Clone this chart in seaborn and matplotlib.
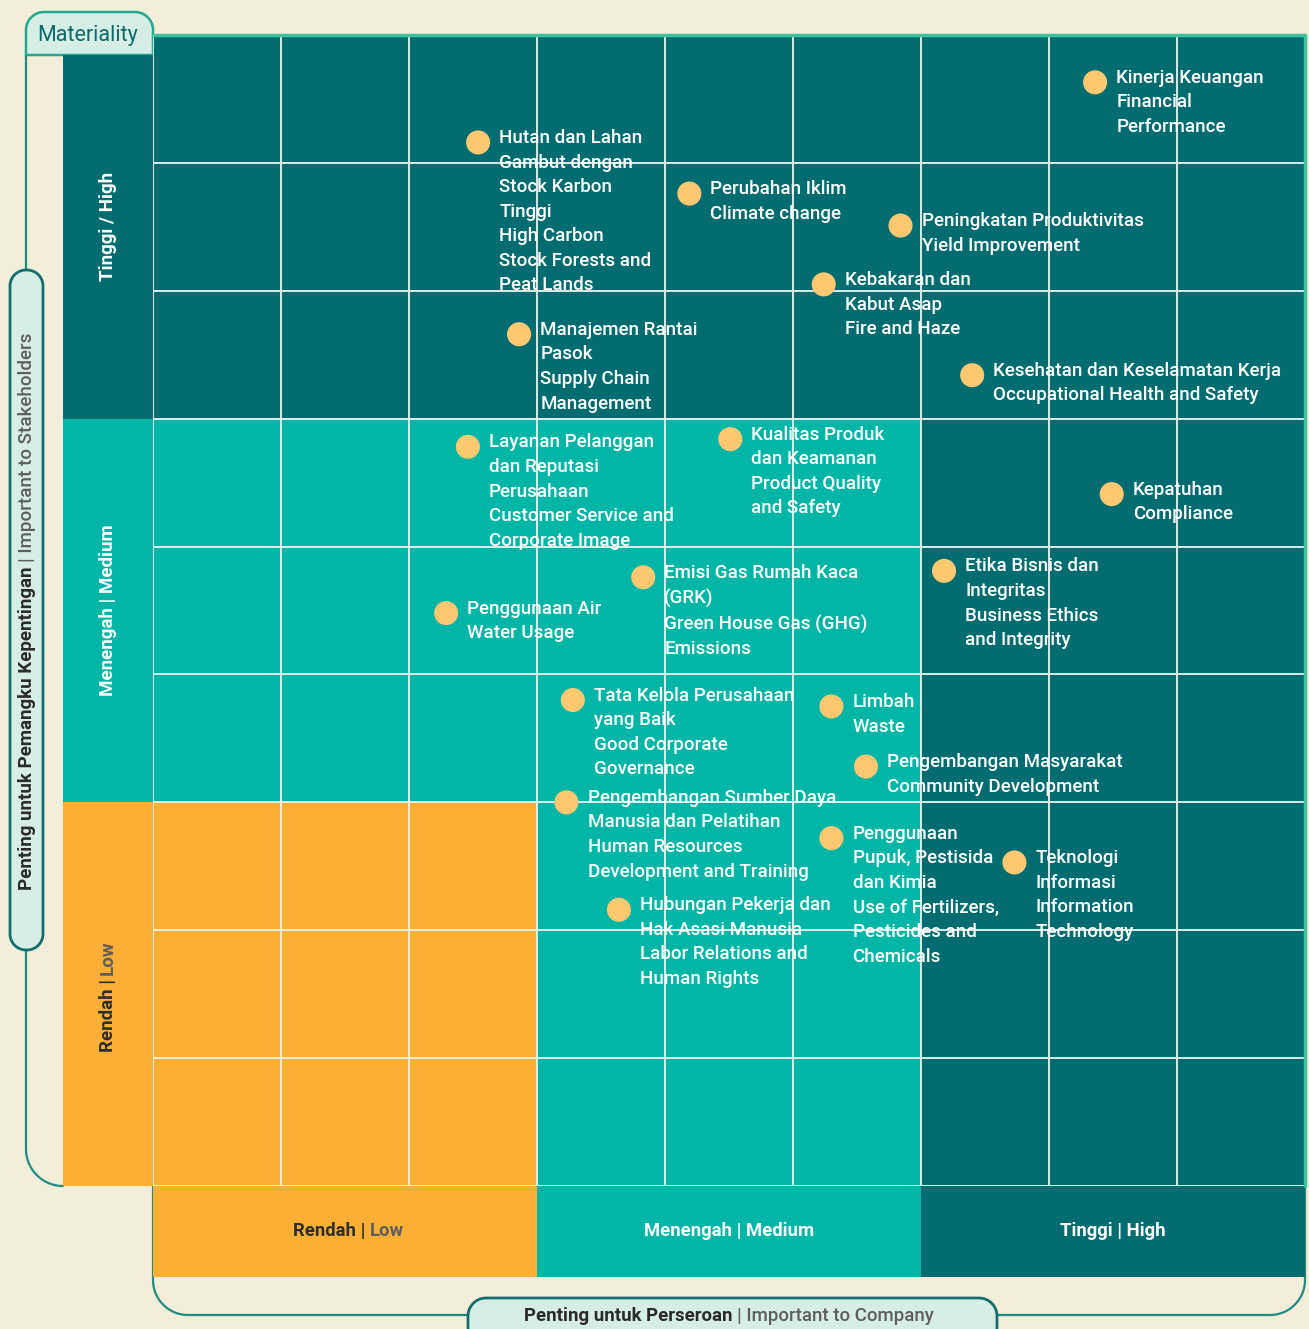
import numpy as np
import pandas as pd
import matplotlib.pyplot as plt
from matplotlib.patches import Rectangle, Polygon
import seaborn as sns

# data: posisi isu material (skala 0-9)
labels = [
    "Kinerja Keuangan\nFinancial\nPerformance",
    "Hutan dan Lahan\nGambut dengan\nStock Karbon\nTinggi\nHigh Carbon\nStock Forests and\nPeat Lands",
    "Perubahan Iklim\nClimate change",
    "Peningkatan Produktivitas\nYield Improvement",
    "Kebakaran dan\nKabut Asap\nFire and Haze",
    "Manajemen Rantai\nPasok\nSupply Chain\nManagement",
    "Kesehatan dan Keselamatan Kerja\nOccupational Health and Safety",
    "Layanan Pelanggan\ndan Reputasi\nPerusahaan\nCustomer Service and\nCorporate Image",
    "Kualitas Produk\ndan Keamanan\nProduct Quality\nand Safety",
    "Kepatuhan\nCompliance",
    "Etika Bisnis dan\nIntegritas\nBusiness Ethics\nand Integrity",
    "Emisi Gas Rumah Kaca\n(GRK)\nGreen House Gas (GHG)\nEmissions",
    "Penggunaan Air\nWater Usage",
    "Tata Kelola Perusahaan\nyang Baik\nGood Corporate\nGovernance",
    "Limbah\nWaste",
    "Pengembangan Masyarakat\nCommunity Development",
    "Pengembangan Sumber Daya\nManusia dan Pelatihan\nHuman Resources\nDevelopment and Training",
    "Penggunaan\nPupuk, Pestisida\ndan Kimia\nUse of Fertilizers,\nPesticides and\nChemicals",
    "Teknologi\nInformasi\nInformation\nTechnology",
    "Hubungan Pekerja dan\nHak Asasi Manusia\nLabor Relations and\nHuman Rights",
]
company = [7.36, 2.54, 4.19, 5.84, 5.24, 2.86, 6.40, 2.46, 4.51, 7.49,
           6.18, 3.83, 2.29, 3.28, 5.30, 5.57, 3.23, 5.30, 6.73, 3.64]
stakeholder = [8.63, 8.16, 7.76, 7.51, 7.05, 6.66, 6.34, 5.78, 5.84, 5.41,
               4.81, 4.76, 4.48, 3.80, 3.75, 3.28, 3.00, 2.72, 2.53, 2.16]

levels_company = ["Rendah | Low", "Menengah | Medium", "Tinggi | High"]
levels_stake = ["Rendah | Low", "Menengah | Medium", "Tinggi / High"]

df = pd.DataFrame({"company": company, "stakeholder": stakeholder, "label": labels})

# warna
CREAM = "#F3EEDA"
DARK = "#026C70"
TEAL = "#01B6A6"
ORANGE = "#FBB035"
DOT = "#FDC870"
MINT = "#D7EEE6"
LINE = "#1E8C84"
GREY = "#5E5E5E"

sns.set_theme(style="white")
plt.rcParams['font.family'] = ['Roboto', 'DejaVu Sans']

fig = plt.figure(figsize=(13.09, 13.29), dpi=100, facecolor=CREAM)

# latar belakang / bingkai dalam piksel
bg = fig.add_axes([0, 0, 1, 1])
bg.set_xlim(0, 1309)
bg.set_ylim(1329, 0)
bg.axis("off")
bg.set_facecolor(CREAM)


def rounded(x0, y0, x1, y1, r):
    # r = (kiri-atas, kanan-atas, kanan-bawah, kiri-bawah)
    pts = []
    corners = [((x0 + r[0], y0 + r[0]), r[0], 180, 270),
               ((x1 - r[1], y0 + r[1]), r[1], 270, 360),
               ((x1 - r[2], y1 - r[2]), r[2], 0, 90),
               ((x0 + r[3], y1 - r[3]), r[3], 90, 180)]
    for (cx, cy), rr, a0, a1 in corners:
        t = np.radians(np.linspace(a0, a1, 20))
        pts += list(zip(cx + rr * np.cos(t), cy + rr * np.sin(t)))
    return np.array(pts)


def arc(cx, cy, r, a0, a1):
    t = np.radians(np.linspace(a0, a1, 30))
    return cx + r * np.cos(t), cy + r * np.sin(t)


# garis bingkai kiri
ax_, ay_ = arc(63, 1149, 37, 180, 90)
bg.plot(np.r_[26, ax_], np.r_[55, ay_], color=LINE, lw=1.6)
# garis bingkai bawah
a1x, a1y = arc(188, 1280, 35, 180, 90)
a2x, a2y = arc(1270, 1280, 35, 90, 0)
bg.plot(np.r_[153, a1x, a2x, 1305], np.r_[1186, a1y, a2y, 1186], color=LINE, lw=1.6)

bg.add_patch(Polygon(rounded(26, 12, 153, 55, (18, 18, 0, 0)), closed=True,
                     fc=MINT, ec="#22A890", lw=1.8, zorder=3))
bg.text(88, 35, "Materiality", ha="center", va="center", fontsize=15.5,
        color="#0B6A6C", zorder=4)

bg.add_patch(Polygon(rounded(10, 270, 43, 950, (16, 16, 16, 16)), closed=True,
                     fc=MINT, ec="#136F6E", lw=2, zorder=3))
t1 = bg.text(27, 890, "Penting untuk Pemangku Kepentingan", rotation=90,
             ha="center", va="bottom", fontsize=13.5, fontweight="bold",
             color="#2A2A2A", zorder=4)
bg.annotate("| Important to Stakeholders", xy=(0.5, 1), xycoords=t1,
            xytext=(0, 3), textcoords="offset points", rotation=90,
            ha="center", va="bottom", fontsize=13.5, fontweight="medium",
            color=GREY, zorder=4)

bg.add_patch(Polygon(rounded(468, 1298, 997, 1345, (18, 18, 18, 18)), closed=True,
                     fc=MINT, ec="#136F6E", lw=2, zorder=3))
t2 = bg.text(733, 1316, "Penting untuk Perseroan", ha="right", va="center",
             fontsize=13.4, fontweight="bold", color="#2A2A2A", zorder=4)
bg.annotate("| Important to Company", xy=(1, 0.5), xycoords=t2,
            xytext=(3, 0), textcoords="offset points", ha="left", va="center",
            fontsize=13.4, fontweight="medium", color=GREY, zorder=4)

# matriks utama
ax = fig.add_axes([153 / 1309, (1329 - 1186) / 1329, 1152 / 1309, 1151 / 1329])
ax.set_xlim(0, 9)
ax.set_ylim(0, 9)
ax.set_facecolor(DARK)
ax.add_patch(Rectangle((0, 0), 6, 6, fc=TEAL, ec="none", zorder=1))
ax.add_patch(Rectangle((0, 0), 3, 3, fc=ORANGE, ec="none", zorder=1))

# pita judul baris & kolom
band_colors = [ORANGE, TEAL, DARK]
hx, hy = 90 / 128, 91 / 128
for i, c in enumerate(band_colors):
    h = 3 if i < 2 else 3 - 20 / 128
    ax.add_patch(Rectangle((-hx, 3 * i), hx, h, fc=c, ec="none", clip_on=False, zorder=1))
    ax.add_patch(Rectangle((3 * i, -hy), 3, hy, fc=c, ec="none", clip_on=False, zorder=1))

ax.vlines(range(10), 0, 9, color="#EEF3F0", lw=1.3, zorder=2)
ax.hlines(range(10), 0, 9, color="#EEF3F0", lw=1.3, zorder=2)
ax.plot([0, 9, 9], [9, 9, 0], color="#3CC29E", lw=2.5, zorder=3, clip_on=False)

# teks judul tingkat
for i, lab in enumerate(levels_stake):
    if i == 0:
        a, b = lab.split("| ")
        ta = ax.text(-hx / 2, 1.05, a + "|", rotation=90, ha="center", va="bottom",
                     fontsize=13.5, fontweight="bold", color="#2E2E2E", clip_on=False)
        ax.annotate(b, xy=(0.5, 1), xycoords=ta, xytext=(0, 3), textcoords="offset points",
                    rotation=90, ha="center", va="bottom", fontsize=13.5,
                    fontweight="bold", color=GREY)
    else:
        yc = 4.5 if i == 1 else 7.5
        ax.text(-hx / 2, yc, lab, rotation=90, ha="center", va="center",
                fontsize=13.5, fontweight="bold", color="white", clip_on=False)

for i, lab in enumerate(levels_company):
    if i == 0:
        a, b = lab.split("| ")
        ta = ax.text(1.66, -hy / 2, a + "|", ha="right", va="center",
                     fontsize=13.3, fontweight="bold", color="#2E2E2E", clip_on=False)
        ax.annotate(b, xy=(1, 0.5), xycoords=ta, xytext=(3, 0), textcoords="offset points",
                    ha="left", va="center", fontsize=13.3, fontweight="bold",
                    color=GREY)
    else:
        ax.text(3 * i + 1.5, -hy / 2, lab, ha="center", va="center",
                fontsize=13.3, fontweight="bold", color="white", clip_on=False)

# titik isu
sns.scatterplot(data=df, x="company", y="stakeholder", s=300, color=DOT,
                edgecolor="none", legend=False, ax=ax, zorder=5)
for _, r in df.iterrows():
    ax.text(r.company + 0.165, r.stakeholder + 0.105, r.label, ha="left", va="top",
            fontsize=13.5, fontweight="medium", color="white",
            linespacing=1.47, zorder=6)

ax.set_xlabel("")
ax.set_ylabel("")
ax.set_xticks([])
ax.set_yticks([])
for s in ax.spines.values():
    s.set_visible(False)

fig.savefig("out.png", dpi=100, facecolor=CREAM)
